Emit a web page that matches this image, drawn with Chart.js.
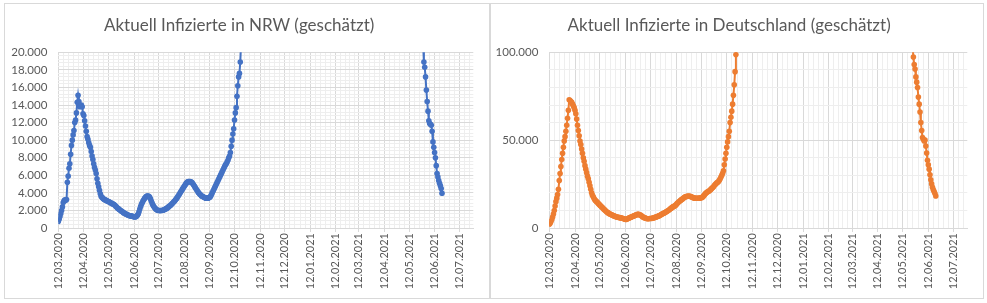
<!DOCTYPE html>
<html>
<head>
<meta charset="utf-8">
<script src="https://cdn.jsdelivr.net/npm/chart.js@4.4.1/dist/chart.umd.min.js"></script>
<style>
  html, body { margin: 0; padding: 0; background: #ffffff; }
  body { width: 987px; height: 303px; position: relative; overflow: hidden; }
  .box { position: absolute; top: 3px; height: 294px; border: 1px solid #d9d9d9; background: #fff; }
  canvas { display: block; }
</style>
</head>
<body>
<div class="box" style="left:4px;width:484px;"><canvas id="nrw" width="484" height="294"></canvas></div>
<div class="box" style="left:490px;width:492px;"><canvas id="de" width="492" height="294"></canvas></div>
<script>
// ---- data (daily values; day 0 = 12.03.2020) ----
const startDate = [2020, 2, 12]; // 12.03.2020
const axisEndDay = 504;

const nrwTitle = 'Aktuell Infizierte in NRW (geschätzt)';
const deTitle = 'Aktuell Infizierte in Deutschland (geschätzt)';

// NRW, first segment starting at day 0
const nrwWave1Start = 0;
const nrwWave1 = [
  750, 1000, 1300, 1650, 2000, 2400, 2900, 3100, 3200, 3150, 3250,
  5200, 5900, 6800, 7300, 8400, 9400, 10000, 10600, 11100, 12000, 12300, 13100, 14300, 15100,
  14400, 13800, 13900, 14000, 13800, 13000, 12800, 12200, 11600, 11000, 10400, 10100, 9700, 9400, 9200,
  8700, 8200, 7800, 7300, 6900, 6600, 6200, 5600, 5100, 4700, 4300, 3900, 3600,
  3500, 3400, 3300, 3250, 3200, 3150, 3100, 3050, 3000, 2950, 2900, 2850, 2800, 2750, 2700, 2650,
  2550, 2450, 2350, 2250, 2200, 2100, 2050, 1950, 1900, 1850, 1750, 1700, 1650, 1600, 1550, 1500, 1450, 1420, 1400, 1380, 1350, 1330, 1300, 1280, 1250,
  1280, 1350, 1450, 1600, 1850, 2150, 2450, 2700, 2900, 3100, 3250, 3400, 3500, 3600, 3650, 3650, 3600, 3500, 3300, 3050, 2800, 2600, 2450, 2300, 2200, 2100,
  2050, 2000, 2000, 1980, 1980, 2000, 2000, 2020, 2050, 2100,
  2150, 2200, 2250, 2350, 2400, 2500, 2550, 2650, 2750, 2850,
  2950, 3050, 3150, 3300, 3400, 3550, 3700, 3850, 4000, 4150,
  4300, 4450, 4600, 4750, 4900, 5050, 5150, 5250, 5300, 5300, 5300,
  5250, 5200, 5100, 4950, 4800, 4650, 4500, 4350, 4200, 4050,
  3950, 3850, 3750, 3650, 3600, 3550, 3500, 3450, 3400, 3400, 3400, 3400, 3450, 3500,
  3600, 3800, 4000, 4200, 4400, 4600, 4800, 5000, 5200, 5400, 5600, 5800, 6000, 6200, 6400, 6600, 6800, 7000, 7200, 7300,
  7500, 7700, 8000, 8200, 8600, 9300, 10000, 10700, 11300, 12300, 13100, 13700, 15000, 16200, 17200, 17600, 18900, 21000
];
// NRW, second segment starting at day 443 (29.05.2021)
const nrwWave2Start = 443;
const nrwWave2 = [
  21000, 18900, 18300, 17200, 15700, 14400, 13300, 12200, 11900, 11800, 11700, 11000,
  9800, 9200, 8600, 8000, 7100, 6200, 5800, 5400, 5100, 4800, 4500, 3950
];

// Deutschland, first segment starting at day 0
const deWave1Start = 0;
const deWave1 = [
  2100, 2700, 3700, 4800, 6300, 8000, 10000, 12500, 15000, 17000, 19000, 22000, 27000, 31000, 35000,
  39000, 42500, 46000, 49500, 52000, 55000, 58500, 62500, 67000, 73000,
  72500, 72000, 71500, 70500, 69500, 68500, 67000, 65000, 62000, 58500, 55500, 52500, 49500, 47500,
  45000, 42500, 40000, 38000, 35500, 33500, 31500, 29500, 28000, 26000, 24000, 22000, 20000, 18700,
  17800, 16800, 16000, 15500, 15000, 14500, 14000, 13500, 13000, 12500,
  12100, 11600, 11100, 10600, 10200, 9700, 9200, 8900, 8600, 8300,
  8000, 7800, 7500, 7300, 7100, 6900, 6700, 6500, 6300, 6200,
  6100, 6000, 5900, 5800, 5600, 5500, 5400, 5200, 5000, 4800,
  4900, 5100, 5400, 5600, 5900, 6100, 6300, 6500, 6700, 6900,
  7100, 7300, 7500, 7700, 7900, 7700, 7500, 7300, 7000, 6600,
  6300, 6000, 5800, 5600, 5400, 5300, 5300, 5300, 5400, 5400,
  5400, 5500, 5600, 5800, 6000, 6200, 6300, 6500, 6700, 6900,
  7100, 7400, 7700, 7900, 8200, 8400, 8700, 8900, 9200, 9500,
  9800, 10100, 10500, 10900, 11300, 11600, 12000, 12300, 12500, 12800,
  13300, 13900, 14400, 14800, 15200, 15600, 16000, 16300, 16700, 17100,
  17500, 17800, 17900, 18000, 18100, 18200, 18100, 18000, 17800, 17600,
  17400, 17200, 17000, 16900, 16900, 16900, 16900, 16900, 17000, 17100, 17200,
  17400, 17700, 18200, 18800, 19400, 19900, 20300, 20600, 20900, 21200,
  21600, 22100, 22600, 23000, 23500, 24200, 24800, 25200, 25700, 26000,
  26400, 27200, 28000, 29000, 30000, 31200, 32600, 36000, 39300, 42500,
  46000, 49000, 52000, 55000, 60000, 63000, 66500, 70500, 75500, 81500,
  89000, 98700, 108000
];
// Deutschland, second segment starting at day 438 (24.05.2021)
const deWave2Start = 438;
const deWave2 = [
  104000, 97300, 93000, 90500, 86000, 83000, 80000, 74500, 70500, 66000, 60000, 55500,
  51500, 50500, 49500, 50000, 46600, 42700, 38500, 36000, 33500, 30300, 27400, 25100,
  23200, 21700, 20800, 19600, 18200
];

// ---- helpers ----
const DAY = 86400000;
const t0 = Date.UTC(startDate[0], startDate[1], startDate[2]);
function pad(n) { return (n < 10 ? '0' : '') + n; }
function dateLabel(day) {
  const d = new Date(t0 + day * DAY);
  return pad(d.getUTCDate()) + '.' + pad(d.getUTCMonth() + 1) + '.' + d.getUTCFullYear();
}
function fmtNum(v) { return String(v).replace(/\B(?=(\d{3})+(?!\d))/g, '.'); }

// month ticks: the 12th of each month
const monthDays = [];
for (let i = 0; ; i++) {
  const t = Date.UTC(startDate[0], startDate[1] + i, startDate[2]);
  const d = Math.round((t - t0) / DAY);
  if (d > axisEndDay) break;
  monthDays.push(d);
}
const monthSet = new Set(monthDays);
const xTicks = [];
for (let i = 0; i < monthDays.length; i++) {
  const a = monthDays[i];
  const b = i + 1 < monthDays.length ? monthDays[i + 1] : a + 31;
  xTicks.push(a);
  for (let k = 1; k < 5; k++) {
    const m = a + (b - a) * k / 5;
    if (m < axisEndDay) xTicks.push(m);
  }
}

function toPoints(start, arr) { return arr.map((v, i) => ({ x: start + i, y: v })); }

const MAJOR = '#d9d9d9';
const MINOR = '#eeeeee';
const TXT = '#595959';
const FONT = 'Lato, "Open Sans", sans-serif';

function makeChart(id, title, color, s1, a1, s2, a2, yMax, yMajor, yMinor, yWidth, rightPad) {
  const pts = toPoints(s1, a1).concat([{ x: (s1 + a1.length + s2) / 2, y: null }], toPoints(s2, a2));
  const yTicks = [];
  for (let v = 0; v <= yMax; v += yMinor) yTicks.push(v);
  return new Chart(document.getElementById(id), {
    type: 'line',
    data: {
      datasets: [{
        data: pts,
        borderColor: color,
        backgroundColor: color,
        borderWidth: 2,
        pointRadius: 2.8,
        pointBorderWidth: 0,
        pointBackgroundColor: color,
        pointHoverRadius: 2.8,
        tension: 0,
        spanGaps: false
      }]
    },
    options: {
      responsive: false,
      animation: false,
      devicePixelRatio: 1,
      layout: { padding: { left: 0, right: rightPad, top: 0, bottom: 0 } },
      plugins: {
        legend: { display: false },
        tooltip: { enabled: false },
        title: {
          display: true,
          text: title,
          color: TXT,
          font: { family: FONT, size: 17, weight: 'normal', lineHeight: 1.2 },
          padding: { top: 11, bottom: 16.9 }
        }
      },
      scales: {
        x: {
          type: 'linear',
          min: 0,
          max: axisEndDay,
          afterBuildTicks: (s) => { s.ticks = xTicks.map(v => ({ value: v })); },
          afterFit: (s) => { s.height = 70; },
          ticks: {
            autoSkip: false,
            minRotation: 90,
            maxRotation: 90,
            padding: 1,
            color: TXT,
            font: { family: FONT, size: 11 },
            callback: (v) => monthSet.has(v) ? dateLabel(v) : ''
          },
          grid: {
            color: (c) => (c.tick && monthSet.has(c.tick.value)) ? MAJOR : MINOR,
            tickColor: (c) => (c.tick && monthSet.has(c.tick.value)) ? MAJOR : 'rgba(0,0,0,0)',
            tickLength: 4,
            lineWidth: 1
          },
          border: { display: true, color: MAJOR }
        },
        y: {
          type: 'linear',
          min: 0,
          max: yMax,
          afterBuildTicks: (s) => { s.ticks = yTicks.map(v => ({ value: v })); },
          afterFit: (s) => { s.width = yWidth; },
          ticks: {
            autoSkip: false,
            padding: 11,
            color: TXT,
            font: { family: FONT, size: 11.5 },
            callback: (v) => (v % yMajor === 0) ? fmtNum(v) : ''
          },
          grid: {
            color: (c) => (c.tick && c.tick.value % yMajor === 0) ? MAJOR : MINOR,
            drawTicks: false,
            lineWidth: 1
          },
          border: { display: false }
        }
      }
    }
  });
}

makeChart('nrw', nrwTitle, '#4472c4', nrwWave1Start, nrwWave1, nrwWave2Start, nrwWave2, 20000, 2000, 400, 53.3, 15.7);
makeChart('de', deTitle, '#ed7d31', deWave1Start, deWave1, deWave2Start, deWave2, 100000, 50000, 10000, 58.3, 15.7);
</script>
</body>
</html>
